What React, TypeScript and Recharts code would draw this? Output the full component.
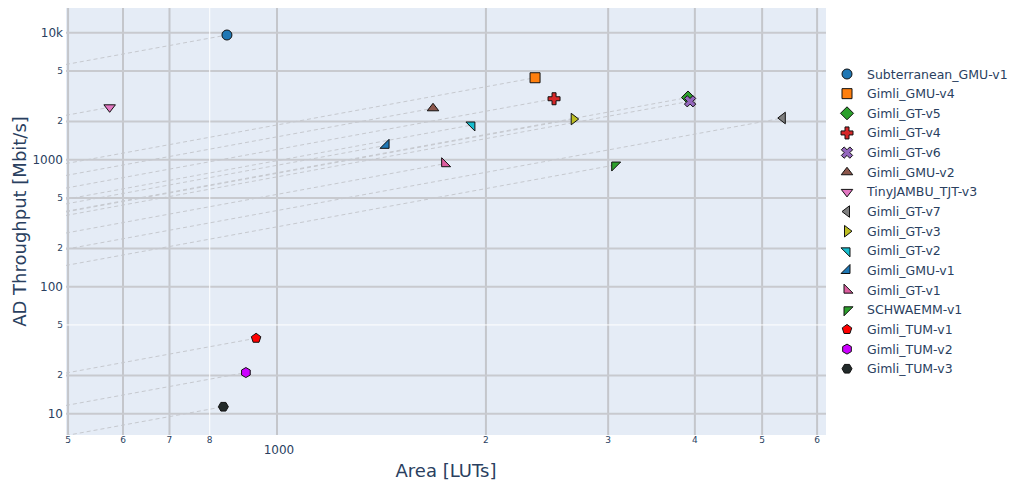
import React from 'react';
import { ScatterChart, Scatter, XAxis, YAxis, CartesianGrid, Legend, Label } from 'recharts';

const designs = [
  'Subterranean_GMU-v1', 'Gimli_GMU-v4', 'Gimli_GT-v5', 'Gimli_GT-v4', 'Gimli_GT-v6', 'Gimli_GMU-v2',
  'TinyJAMBU_TJT-v3', 'Gimli_GT-v7', 'Gimli_GT-v3', 'Gimli_GT-v2', 'Gimli_GMU-v1', 'Gimli_GT-v1',
  'SCHWAEMM-v1', 'Gimli_TUM-v1', 'Gimli_TUM-v2', 'Gimli_TUM-v3',
];
const areaLUTs = [847, 2354, 3910, 2507, 3937, 1678, 574, 5355, 2676, 1909, 1436, 1744, 3066, 933, 902, 837];
const throughput = [9590, 4420, 3090, 3020, 2885, 2540, 2586, 2130, 2090, 1876, 1298, 930, 908, 39.3, 21.1, 11.35];
const colors = [
  '#1f77b4', '#ff7f0e', '#2ca02c', '#d62728', '#9467bd', '#8c564b', '#e377c2', '#7f7f7f',
  '#bcbd22', '#17becf', '#1f77b4', '#dd5d9f', '#2ca02c', '#ff0000', '#cc00ff', '#222a2a',
];
const symbols = [
  'circle', 'square', 'diamond', 'cross', 'x', 'triangle-up', 'triangle-down', 'triangle-left',
  'triangle-right', 'triangle-ne', 'triangle-se', 'triangle-sw', 'triangle-nw', 'pentagon', 'hexagon', 'hexagon2',
];

const xTicks = [500, 600, 700, 800, 900, 1000, 2000, 3000, 4000, 5000, 6000];
const yTicks = [10, 20, 50, 100, 200, 500, 1000, 2000, 5000, 10000];
const X_DOMAIN = [496.6, 6180];
const Y_DOMAIN = [6.8, 15650];

const TEXT = '#2a3f5f';
const FONT = '"DejaVu Sans", Verdana, sans-serif';

// plotly-like marker paths, r = size / 2
function symbolPath(symbol: string, r: number): string {
  switch (symbol) {
    case 'square':
      return `M${r},${r}H${-r}V${-r}H${r}Z`;
    case 'diamond': {
      const d = r * 1.3;
      return `M${d},0L0,${d}L${-d},0L0,${-d}Z`;
    }
    case 'cross': {
      const a = r * 0.4, b = r * 1.2;
      return `M${b},${a}H${a}V${b}H${-a}V${a}H${-b}V${-a}H${-a}V${-b}H${a}V${-a}H${b}Z`;
    }
    case 'x': {
      const k = (r * 0.8) / Math.SQRT2;
      const ne = `l${k},${k}`, se = `l${k},${-k}`, sw = `l${-k},${-k}`, nw = `l${-k},${k}`;
      return `M0,${k}` + ne + se + sw + se + sw + nw + sw + nw + ne + nw + ne + 'Z';
    }
    case 'triangle-up': {
      const t = (r * 2) / Math.sqrt(3);
      return `M${-t},${r / 2}H${t}L0,${-r}Z`;
    }
    case 'triangle-down': {
      const t = (r * 2) / Math.sqrt(3);
      return `M${-t},${-r / 2}H${t}L0,${r}Z`;
    }
    case 'triangle-left': {
      const t = (r * 2) / Math.sqrt(3);
      return `M${r / 2},${-t}V${t}L${-r},0Z`;
    }
    case 'triangle-right': {
      const t = (r * 2) / Math.sqrt(3);
      return `M${-r / 2},${-t}V${t}L${r},0Z`;
    }
    case 'triangle-ne': {
      const a = r * 0.6, b = r * 1.2;
      return `M${-b},${-a}H${a}V${b}Z`;
    }
    case 'triangle-se': {
      const a = r * 0.6, b = r * 1.2;
      return `M${a},${-b}V${a}H${-b}Z`;
    }
    case 'triangle-sw': {
      const a = r * 0.6, b = r * 1.2;
      return `M${b},${a}H${-a}V${-b}Z`;
    }
    case 'triangle-nw': {
      const a = r * 0.6, b = r * 1.2;
      return `M${-a},${b}V${-a}H${b}Z`;
    }
    case 'pentagon': {
      const x1 = r * 0.951, x2 = r * 0.588, y1 = r * -0.309, y2 = r * 0.809;
      return `M${x1},${y1}L${x2},${y2}H${-x2}L${-x1},${y1}L0,${-r}Z`;
    }
    case 'hexagon': {
      const y1 = r / 2, y2 = (r * Math.sqrt(3)) / 2;
      return `M${y2},${-y1}V${y1}L0,${r}L${-y2},${y1}V${-y1}L0,${-r}Z`;
    }
    case 'hexagon2': {
      const y1 = r / 2, y2 = (r * Math.sqrt(3)) / 2;
      return `M${-y1},${y2}H${y1}L${r},0L${y1},${-y2}H${-y1}L${-r},0Z`;
    }
    default:
      return `M${r},0A${r},${r} 0 1,1 0,${-r}A${r},${r} 0 0,1 ${r},0Z`;
  }
}

const Marker = ({ cx, cy, symbol, color }: { cx: number; cy: number; symbol: string; color: string }) => (
  <path
    d={symbolPath(symbol, 5)}
    transform={`translate(${cx},${cy})`}
    fill={color}
    stroke="#111"
    strokeWidth={1}
  />
);

const XTick = ({ x, payload }: any) => {
  const major = payload.value === 1000;
  return (
    <text
      x={major ? x + 2 : x}
      y={major ? 450 : 440}
      textAnchor="middle"
      dominantBaseline="central"
      fontSize={major ? 12 : 9}
      fill={TEXT}
      fontFamily={FONT}
    >
      {payload.value >= 1000 && !major ? String(payload.value / 1000) : major ? '1000' : String(payload.value / 100)}
    </text>
  );
};

const YTick = ({ y, payload }: any) => {
  const v = payload.value;
  const major = [10, 100, 1000, 10000].includes(v);
  const label = v === 10000 ? '10k' : major ? String(v) : String(v).charAt(0);
  return (
    <text x={63} y={y} textAnchor="end" dominantBaseline="central" fontSize={major ? 12 : 9} fill={TEXT} fontFamily={FONT}>
      {label}
    </text>
  );
};

const LegendBox = () => (
  <svg width={175} height={320}>
    {designs.map((name, i) => (
      <g key={name}>
        <Marker cx={9} cy={10 + i * 19.65} symbol={symbols[i]} color={colors[i]} />
        <text x={29} y={10 + i * 19.65} dominantBaseline="central" fontSize={12.5} fill={TEXT} fontFamily={FONT}>
          {name}
        </text>
      </g>
    ))}
  </svg>
);

export default function App() {
  return (
    <div style={{ position: 'absolute', left: 0, top: 0, width: 1013, height: 488, background: '#fff', fontFamily: FONT }}>
      <ScatterChart width={1013} height={488} margin={{ top: 8, right: 187, bottom: 0, left: 0 }}>
        <CartesianGrid
          fill="#e5ecf6"
          stroke="#c4c6cb"
          strokeWidth={2}
          horizontal={false}
          verticalValues={[500, 600, 700, 900, 1000, 2000, 3000, 4000, 5000, 6000]}
        />
        <CartesianGrid
          stroke="#c8cacf"
          strokeWidth={2}
          vertical={false}
          horizontalValues={[10, 20, 100, 200, 500, 1000, 2000, 5000, 10000]}
        />
        <CartesianGrid stroke="#ffffff" strokeWidth={1} horizontal={false} verticalValues={[800]} />
        <CartesianGrid stroke="#ffffff" strokeWidth={1} vertical={false} horizontalValues={[50]} />
        <XAxis
          type="number"
          dataKey="x"
          scale="log"
          domain={X_DOMAIN}
          allowDataOverflow
          ticks={xTicks}
          tick={<XTick />}
          tickLine={false}
          axisLine={false}
          height={53}
        >
          <Label
            content={() => (
              <text x={446} y={477} textAnchor="middle" fontSize={18} fill={TEXT} fontFamily={FONT}>
                Area [LUTs]
              </text>
            )}
          />
        </XAxis>
        <YAxis
          type="number"
          dataKey="y"
          scale="log"
          domain={Y_DOMAIN}
          allowDataOverflow
          ticks={yTicks}
          tick={<YTick />}
          tickLine={false}
          axisLine={false}
          width={66}
        >
          <Label
            content={() => (
              <text
                x={19}
                y={221.5}
                transform="rotate(-90 19 221.5)"
                textAnchor="middle"
                dominantBaseline="central"
                fontSize={18}
                fill={TEXT}
                fontFamily={FONT}
              >
                AD Throughput [Mbit/s]
              </text>
            )}
          />
        </YAxis>
        {designs.map((name, i) => (
          <Scatter
            key={'eff-' + name}
            data={[
              { x: X_DOMAIN[0], y: (throughput[i] * X_DOMAIN[0]) / areaLUTs[i] },
              { x: areaLUTs[i], y: throughput[i] },
            ]}
            line={{ stroke: '#c6c9cf', strokeWidth: 1, strokeDasharray: '4 3' }}
            shape={() => <g />}
            legendType="none"
            isAnimationActive={false}
          />
        ))}
        {designs.map((name, i) => (
          <Scatter
            key={name}
            name={name}
            data={[{ x: areaLUTs[i], y: throughput[i] }]}
            shape={(p: any) => <Marker cx={p.cx} cy={p.cy} symbol={symbols[i]} color={colors[i]} />}
            isAnimationActive={false}
          />
        ))}
        <Legend
          layout="vertical"
          align="center"
          verticalAlign="middle"
          content={() => <LegendBox />}
          wrapperStyle={{ left: 838, top: 64, width: 175, height: 320 }}
        />
      </ScatterChart>
    </div>
  );
}
